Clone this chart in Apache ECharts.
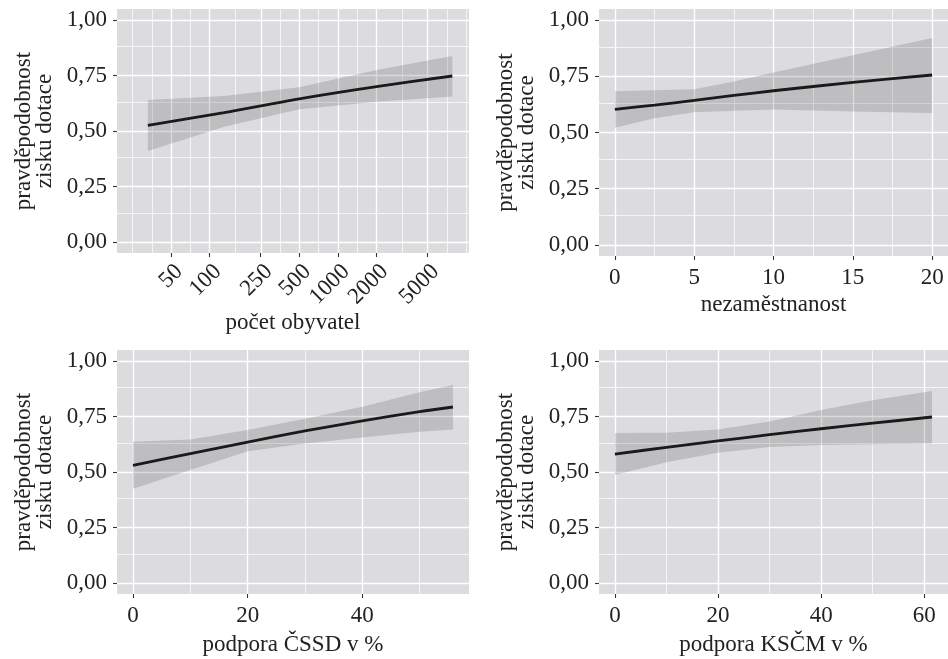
<!DOCTYPE html>
<html>
<head>
<meta charset="utf-8">
<script src="https://cdn.jsdelivr.net/npm/echarts@6/dist/echarts.min.js"></script>
<style>
html, body { margin: 0; padding: 0; background: #fff; }
#main { width: 948px; height: 659px; }
</style>
</head>
<body>
<div id="main"></div>
<script>
// osa y - společná pro všechny grafy
var yTicks = [0, 0.25, 0.5, 0.75, 1];
var yMinor = [0.125, 0.375, 0.625, 0.875];

// počet obyvatel (log. osa)
var popX = [33, 130, 500, 2000, 7800];
var popFit = [0.525, 0.583, 0.645, 0.700, 0.748];
var popLo = [0.410, 0.519, 0.598, 0.632, 0.655];
var popHi = [0.640, 0.658, 0.697, 0.775, 0.838];
var popTicks = [50, 100, 250, 500, 1000, 2000, 5000];
var popMinor = [25, 35.36, 70.71, 158.1, 353.6, 707.1, 1414, 3162, 7071, 10000];

// nezaměstnanost
var unempX = [0, 2.5, 5, 7.5, 10, 15, 20];
var unempFit = [0.603, 0.622, 0.643, 0.665, 0.686, 0.723, 0.756];
var unempLo = [0.521, 0.563, 0.590, 0.597, 0.602, 0.594, 0.587];
var unempHi = [0.684, 0.688, 0.693, 0.727, 0.767, 0.844, 0.921];
var unempTicks = [0, 5, 10, 15, 20];
var unempMinor = [2.5, 7.5, 12.5, 17.5];

// podpora ČSSD
var cssdX = [0, 10, 20, 30, 40, 50, 55.8];
var cssdFit = [0.530, 0.583, 0.635, 0.685, 0.731, 0.772, 0.793];
var cssdLo = [0.425, 0.509, 0.593, 0.628, 0.656, 0.682, 0.692];
var cssdHi = [0.636, 0.647, 0.689, 0.740, 0.794, 0.860, 0.892];
var cssdTicks = [0, 20, 40];
var cssdMinor = [10, 30, 50];

// podpora KSČM
var kscmX = [0, 10, 20, 30, 40, 50, 61.5];
var kscmFit = [0.581, 0.611, 0.640, 0.668, 0.695, 0.720, 0.748];
var kscmLo = [0.486, 0.544, 0.587, 0.613, 0.622, 0.625, 0.629];
var kscmHi = [0.676, 0.677, 0.692, 0.728, 0.780, 0.824, 0.865];
var kscmTicks = [0, 20, 40, 60];
var kscmMinor = [10, 30, 50];

var FONT = 'Liberation Serif';
var FS = 23;
var TXT = '#222';
var yName = 'pravděpodobnost\nzisku dotace';

function log10(v) { return Math.log10(v); }
function comma(v) { return v.toFixed(2).replace('.', ','); }

var panels = [
    { left: 117, top: 9, height: 244, xmin: 1.278, xmax: 4.022,
      x: popX.map(log10), fit: popFit, lo: popLo, hi: popHi,
      ticks: popTicks.map(log10), minor: popMinor.map(log10),
      fmt: function (v) { return String(Math.round(Math.pow(10, v))); },
      rotate: 45, name: 'počet obyvatel', nameGap: 51 },
    { left: 599, top: 9, height: 247, xmin: -1, xmax: 21,
      x: unempX, fit: unempFit, lo: unempLo, hi: unempHi,
      ticks: unempTicks, minor: unempMinor,
      fmt: function (v) { return String(v); },
      rotate: 0, name: 'nezaměstnanost', nameGap: 37 },
    { left: 117, top: 350, height: 244, xmin: -2.79, xmax: 58.6,
      x: cssdX, fit: cssdFit, lo: cssdLo, hi: cssdHi,
      ticks: cssdTicks, minor: cssdMinor,
      fmt: function (v) { return String(v); },
      rotate: 0, name: 'podpora ČSSD v %', nameGap: 39 },
    { left: 599, top: 350, height: 244, xmin: -3.08, xmax: 64.6,
      x: kscmX, fit: kscmFit, lo: kscmLo, hi: kscmHi,
      ticks: kscmTicks, minor: kscmMinor,
      fmt: function (v) { return String(v); },
      rotate: 0, name: 'podpora KSČM v %', nameGap: 39 }
];

var grids = [], xAxes = [], yAxes = [], series = [];

panels.forEach(function (p, i) {
    grids.push({
        left: p.left, top: p.top, width: 352, height: p.height,
        show: true, backgroundColor: '#dcdcdf', borderWidth: 0
    });
    var xLabel = {
        customValues: p.ticks, formatter: p.fmt, rotate: p.rotate,
        fontFamily: FONT, fontSize: FS, color: TXT, margin: 10,
        showMinLabel: true, showMaxLabel: true, hideOverlap: false
    };
    if (p.rotate) {
        // jako hjust = 1, vjust = 1 v ggplotu
        xLabel.align = 'right';
        xLabel.verticalAlign = 'top';
        xLabel.margin = 7;
    }
    xAxes.push({
        gridIndex: i, type: 'value', min: p.xmin, max: p.xmax,
        axisLine: { show: false, onZero: false },
        axisTick: { show: true, length: 4, customValues: p.ticks, lineStyle: { color: '#333', width: 1.1 } },
        axisLabel: xLabel,
        splitLine: { show: false },
        name: p.name, nameLocation: 'middle', nameGap: p.nameGap,
        nameTextStyle: { fontFamily: FONT, fontSize: FS, color: TXT }
    });
    yAxes.push({
        gridIndex: i, type: 'value', min: -0.05, max: 1.05,
        axisLine: { show: false, onZero: false },
        axisTick: { show: true, length: 4, customValues: yTicks, lineStyle: { color: '#333', width: 1.1 } },
        axisLabel: { customValues: yTicks, formatter: comma, fontFamily: FONT, fontSize: FS, color: TXT, margin: 10 },
        splitLine: { show: false },
        name: yName, nameLocation: 'middle', nameRotate: 90, nameGap: 62,
        nameTextStyle: { fontFamily: FONT, fontSize: FS, lineHeight: 21, color: TXT }
    });

    // mřížka - bílé čáry
    var lines = [];
    p.ticks.forEach(function (v) { lines.push({ xAxis: v, lineStyle: { width: 1.4 } }); });
    p.minor.forEach(function (v) { lines.push({ xAxis: v, lineStyle: { width: 0.7 } }); });
    yTicks.forEach(function (v) { lines.push({ yAxis: v, lineStyle: { width: 1.4 } }); });
    yMinor.forEach(function (v) { lines.push({ yAxis: v, lineStyle: { width: 0.7 } }); });

    var bandData = [], fitData = [];
    for (var k = 0; k < p.x.length; k++) {
        bandData.push([p.x[k], p.lo[k], p.hi[k]]);
        fitData.push([p.x[k], p.fit[k]]);
    }

    // pás spolehlivosti jako polygon
    series.push({
        type: 'custom', xAxisIndex: i, yAxisIndex: i, data: bandData,
        encode: { x: 0, y: [1, 2] }, z: 6, silent: true,
        renderItem: function (params, api) {
            if (params.dataIndex !== 0) return;
            var pts = [];
            for (var k = 0; k < p.x.length; k++) pts.push(api.coord([p.x[k], p.lo[k]]));
            for (var k2 = p.x.length - 1; k2 >= 0; k2--) pts.push(api.coord([p.x[k2], p.hi[k2]]));
            return { type: 'polygon', shape: { points: pts }, style: { fill: 'rgba(70,70,75,0.2)' } };
        },
        markLine: {
            silent: true, symbol: ['none', 'none'], z: 1, animation: false,
            label: { show: false },
            lineStyle: { color: '#ffffff', type: 'solid' },
            data: lines
        }
    });
    series.push({
        type: 'line', xAxisIndex: i, yAxisIndex: i, data: fitData,
        symbol: 'none', smooth: 0.3, z: 7,
        lineStyle: { color: '#1a1a1a', width: 2.8 }
    });
});

var myChart = echarts.init(document.getElementById('main'));
myChart.setOption({
    animation: false,
    backgroundColor: '#ffffff',
    grid: grids,
    xAxis: xAxes,
    yAxis: yAxes,
    series: series
});
</script>
</body>
</html>
